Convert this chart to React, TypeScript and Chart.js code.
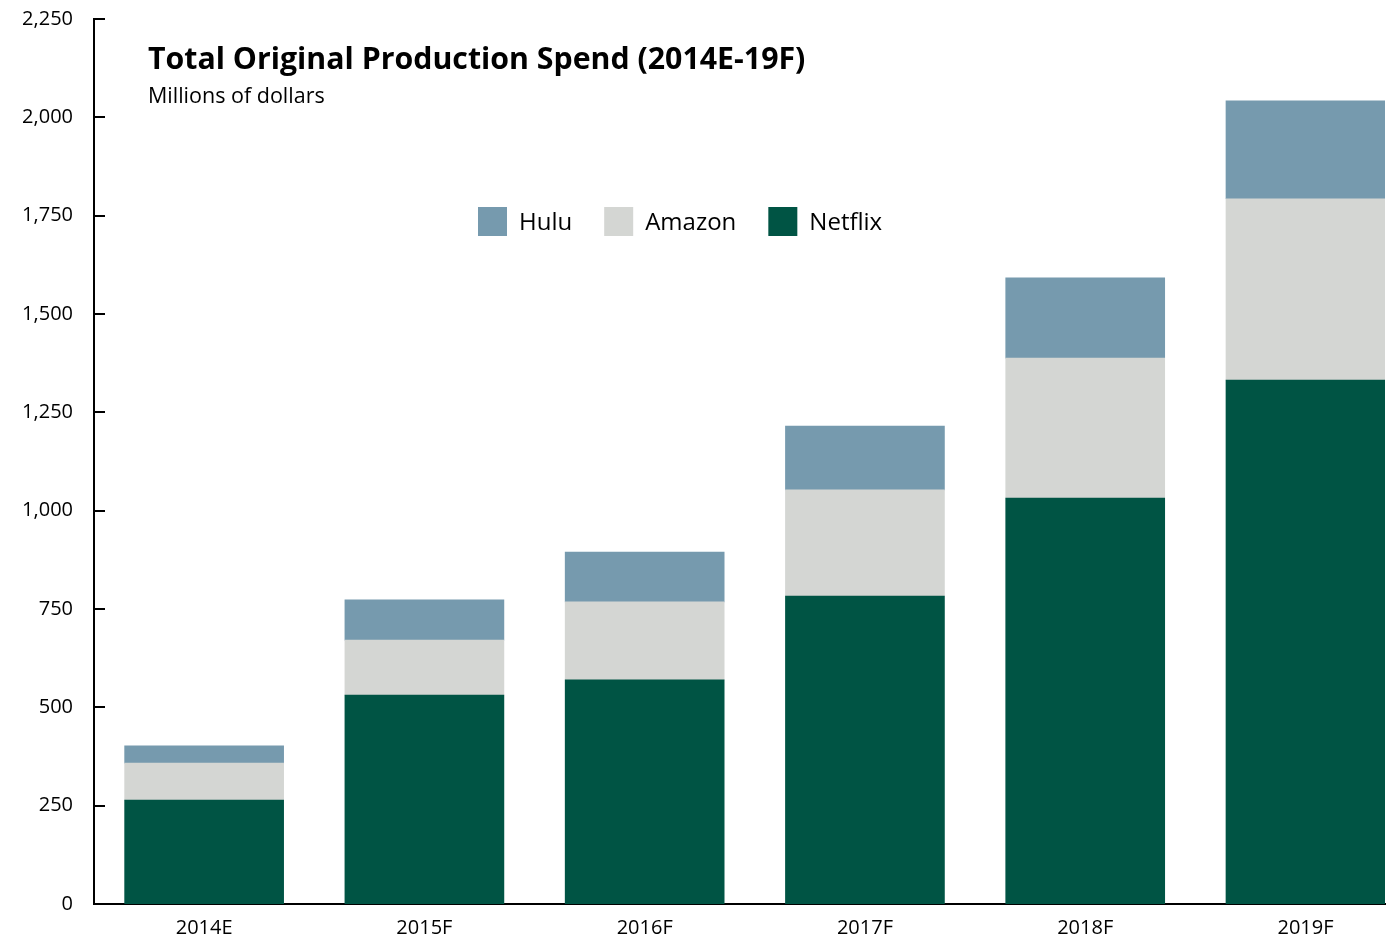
import React, { useEffect, useRef } from "react";
import { Chart, registerables } from "chart.js";

Chart.register(...registerables);

const categories = ["2014E", "2015F", "2016F", "2017F", "2018F", "2019F"];
const netflix = [264, 531, 570, 783, 1032, 1332];
const amazon = [94, 140, 198, 270, 356, 461];
const hulu = [44, 102, 127, 162, 204, 249];
const yTicks = [0, 250, 500, 750, 1000, 1250, 1500, 1750, 2000, 2250];

const FONT = "'Open Sans', 'Noto Sans', sans-serif";
const COLORS = { netflix: "#005444", amazon: "#D4D6D3", hulu: "#769AAE" };

const toPoints = (arr: number[]) => arr.map((y, i) => ({ x: i, y }));

const decorPlugin = {
  id: "decor",
  afterDraw(chart: any) {
    const ctx = chart.ctx as CanvasRenderingContext2D;
    const y = chart.scales.y;
    const area = chart.chartArea;
    ctx.save();
    // inward y tick marks
    ctx.strokeStyle = "#000";
    ctx.lineWidth = 2;
    yTicks.forEach((v) => {
      const py = Math.round(y.getPixelForValue(v));
      ctx.beginPath();
      ctx.moveTo(area.left, py);
      ctx.lineTo(area.left + 11, py);
      ctx.stroke();
    });
    // title & subtitle
    ctx.fillStyle = "#000";
    ctx.textAlign = "left";
    ctx.textBaseline = "alphabetic";
    ctx.font = `bold 30.3px ${FONT}`;
    ctx.fillText("Total Original Production Spend (2014E-19F)", 148, 69);
    ctx.font = `21.5px ${FONT}`;
    ctx.fillText("Millions of dollars", 148, 103);
    // legend
    const items = [
      { label: "Hulu", color: COLORS.hulu },
      { label: "Amazon", color: COLORS.amazon },
      { label: "Netflix", color: COLORS.netflix },
    ];
    ctx.font = `24px ${FONT}`;
    ctx.textBaseline = "middle";
    let x = 478;
    const cy = 222;
    items.forEach((it) => {
      ctx.fillStyle = it.color;
      ctx.fillRect(x, cy - 15, 29, 29);
      ctx.fillStyle = "#000";
      ctx.fillText(it.label, x + 41, cy + 1);
      x += 41 + ctx.measureText(it.label).width + 32;
    });
    ctx.restore();
  },
};

export default function App() {
  const ref = useRef<HTMLCanvasElement | null>(null);
  useEffect(() => {
    document.body.style.margin = "0";
    const canvas = ref.current;
    if (!canvas) return;
    const chart = new Chart(canvas, {
      type: "bar",
      data: {
        datasets: [
          { label: "Netflix", data: toPoints(netflix) as any, backgroundColor: COLORS.netflix },
          { label: "Amazon", data: toPoints(amazon) as any, backgroundColor: COLORS.amazon },
          { label: "Hulu", data: toPoints(hulu) as any, backgroundColor: COLORS.hulu },
        ],
      },
      options: {
        animation: false,
        responsive: false,
        maintainAspectRatio: false,
        layout: { padding: { top: 19, right: 4, left: 0, bottom: 0 } },
        datasets: { bar: { barThickness: 159, borderWidth: 0 } },
        plugins: { legend: { display: false }, tooltip: { enabled: false }, title: { display: false } },
        scales: {
          x: {
            type: "linear",
            stacked: true,
            offset: false,
            min: -0.5,
            max: 5.361,
            grid: { display: false, drawTicks: false, offset: false },
            border: { display: true, color: "#000", width: 2 },
            afterBuildTicks: (axis: any) => {
              axis.ticks = categories.map((_, i) => ({ value: i }));
            },
            afterFit: (axis: any) => {
              axis.height = 32;
              axis.paddingLeft = 0;
              axis.paddingRight = 0;
            },
            ticks: {
              autoSkip: false,
              maxRotation: 0,
              padding: 12,
              color: "#000",
              font: { family: FONT, size: 20 },
              callback: (v: any) => categories[Math.round(Number(v))] ?? "",
            },
          },
          y: {
            stacked: true,
            min: 0,
            max: 2250,
            grid: { display: false, drawTicks: false },
            border: { display: true, color: "#000", width: 2 },
            afterBuildTicks: (axis: any) => {
              axis.ticks = yTicks.map((v) => ({ value: v }));
            },
            afterFit: (axis: any) => {
              axis.width = 94;
              axis.paddingTop = 0;
              axis.paddingBottom = 0;
            },
            ticks: {
              padding: 21,
              color: "#000",
              font: { family: FONT, size: 20 },
              callback: (v: any) => Number(v).toLocaleString("en-US"),
            },
          },
        },
      },
      plugins: [decorPlugin],
    });
    return () => chart.destroy();
  }, []);
  return (
    <div style={{ width: 1389, height: 936, overflow: "hidden", background: "#fff" }}>
      <canvas ref={ref} width={1389} height={936} style={{ display: "block" }} />
    </div>
  );
}
